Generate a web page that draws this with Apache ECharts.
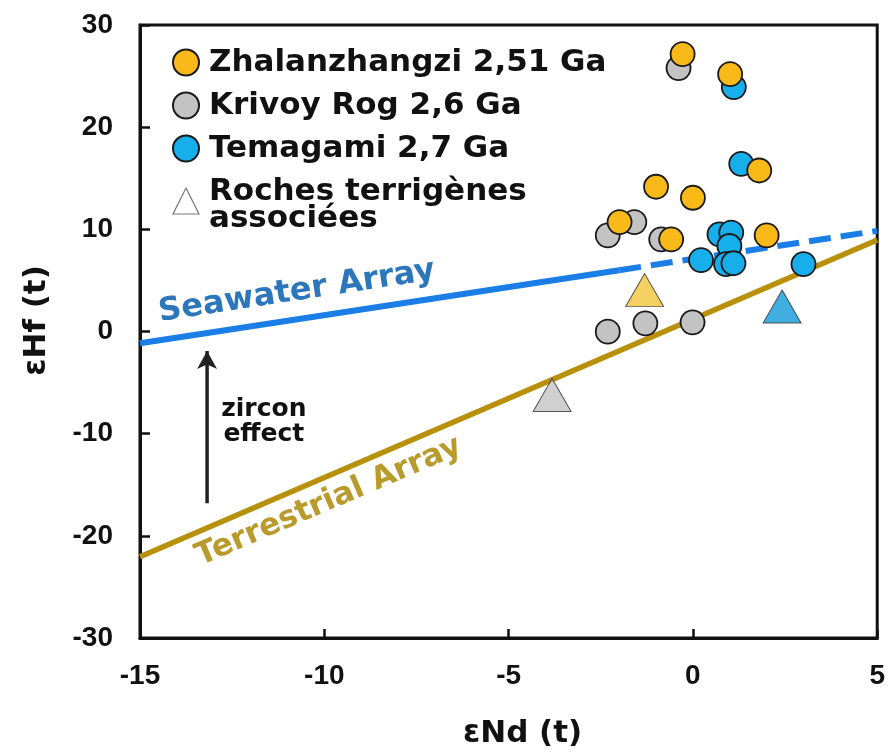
<!DOCTYPE html>
<html><head><meta charset="utf-8">
<script src="https://cdn.jsdelivr.net/npm/echarts@6/dist/echarts.min.js"></script>
<style>html,body{margin:0;padding:0;background:#fff}#c{width:888px;height:754px}</style>
</head><body><div id="c"></div>
<script>
// ---- data ----
const xTicks = [-15, -10, -5, 0, 5];
const yTicks = [-30, -20, -10, 0, 10, 20, 30];
const zhalanzhangzi = [[-0.28,27.14],[1.01,25.19],[-1.0,14.17],[0.0,13.09],[1.80,15.76],[-1.99,10.71],[-0.59,9.02],[2.0,9.41]];
const krivoyRog = [[-0.39,25.78],[-2.31,9.41],[-1.59,10.71],[-0.86,9.02],[-2.31,-0.02],[-1.29,0.80],[-0.01,0.90]];
const temagami = [[1.11,23.92],[1.31,16.41],[0.72,9.51],[1.04,9.68],[0.99,8.37],[0.22,6.98],[0.90,6.59],[1.10,6.68],[3.0,6.59]];
const terrigenous = [[-1.31,4.05],[-3.82,-6.22],[2.42,2.44]];
const terrigenousGroup = ['Zhalanzhangzi 2,51 Ga','Krivoy Rog 2,6 Ga','Temagami 2,7 Ga'];
const seawaterSolid = [[-15,-1.15],[-2,6.0]];
const seawaterDashed = [[-2,6.0],[5,9.85]];
const terrestrial = [[-15,-22.04],[5,8.96]];
const zirconArrow = [[-13.18,-16.8],[-13.18,-1.9]];
const names = ['Zhalanzhangzi 2,51 Ga','Krivoy Rog 2,6 Ga','Temagami 2,7 Ga','Roches terrigènes associées'];
const annotations = [
  {text:'Seawater Array', at:[-10.745,3.89], along:seawaterSolid, color:'#2C76BC', size:32},
  {text:'Terrestrial Array', at:[-9.88,-16.65], along:terrestrial, color:'#B99B2D', size:31},
  {text:'zircon\neffect', at:[-11.64,-8.82], along:null, color:'#111', size:25}
];

// ---- styles ----
const circleColor = {'Zhalanzhangzi 2,51 Ga':'#F9B918','Krivoy Rog 2,6 Ga':'#C3C3C3','Temagami 2,7 Ga':'#17AEEC'};
const triColor = {'Zhalanzhangzi 2,51 Ga':'#F0C43A','Krivoy Rog 2,6 Ga':'#C4C4C4','Temagami 2,7 Ga':'#129AD9'};
const FONT = 'DejaVu Sans';
const TICKFONT = 'Liberation Sans';

function circles(name, data) {
  return {
    type:'scatter', name:name, data:data, symbol:'circle', symbolSize:24, z:5,
    itemStyle:{color:circleColor[name], borderColor:'#1a1a1a', borderWidth:1.8, opacity:1},
    emphasis:{disabled:true}
  };
}

const option = {
  animation:false,
  backgroundColor:'#fff',
  grid:{left:140, right:10, top:25, bottom:114, show:true, borderColor:'#111', borderWidth:3, backgroundColor:'transparent'},
  xAxis:{
    type:'value', min:xTicks[0], max:xTicks[xTicks.length-1], interval:5,
    name:'εNd (t)', nameLocation:'middle', nameGap:80,
    nameTextStyle:{fontFamily:FONT, fontWeight:'bold', fontSize:31, color:'#111', padding:[0,0,0,28]},
    axisLine:{show:true, onZero:false, lineStyle:{color:'#111', width:3}},
    axisTick:{show:true, inside:true, length:9, lineStyle:{color:'#111', width:2.5}},
    splitLine:{show:false},
    axisLabel:{fontFamily:TICKFONT, fontWeight:'bold', fontSize:28, color:'#111', margin:24, showMinLabel:true, showMaxLabel:true}
  },
  yAxis:{
    type:'value', min:yTicks[0], max:yTicks[yTicks.length-1], interval:10,
    name:'εHf (t)', nameLocation:'middle', nameGap:88,
    nameTextStyle:{fontFamily:FONT, fontWeight:'bold', fontSize:31, color:'#111', padding:[0,0,0,22]},
    axisLine:{show:true, onZero:false, lineStyle:{color:'#111', width:3}},
    axisTick:{show:true, inside:true, length:10, lineStyle:{color:'#111', width:2.5}},
    splitLine:{show:false},
    axisLabel:{fontFamily:TICKFONT, fontWeight:'bold', fontSize:28, color:'#111', margin:27, showMinLabel:true, showMaxLabel:true}
  },
  legend:{
    orient:'vertical', left:172, top:41, padding:0, itemGap:0, itemWidth:26, itemHeight:26,
    selectedMode:false,
    data:[
      {name:names[0], icon:'circle'},
      {name:names[1], icon:'circle'},
      {name:names[2], icon:'circle'},
      {name:names[3], icon:'triangle', itemStyle:{color:'#fff', borderColor:'#555', borderWidth:1.2},
       textStyle:{padding:[8,0,0,5]}}
    ],
    formatter:function(n){ return n === names[3] ? '{r|Roches terrigènes}\n{r|associées}' : n; },
    textStyle:{fontFamily:FONT, fontWeight:'bold', fontSize:31, color:'#111', lineHeight:43, padding:[0,0,0,5],
      rich:{
        r:{fontFamily:FONT, fontWeight:'bold', fontSize:31, color:'#111', lineHeight:27}
      }}
  },
  series:[
    {type:'line', name:'Terrestrial Array', data:terrestrial, showSymbol:false, z:2, silent:true,
     lineStyle:{color:'#B8900A', width:5.5}},
    {type:'line', name:'Seawater Array', data:seawaterSolid, showSymbol:false, z:2, silent:true,
     lineStyle:{color:'#1A7EE6', width:6}},
    {type:'line', name:'Seawater Array (dashed)', data:seawaterDashed, showSymbol:false, z:2, silent:true,
     lineStyle:{color:'#1A7EE6', width:6, type:[22,10], cap:'butt'}},
    {type:'line', name:'zircon effect', z:3, silent:true, showSymbol:true,
     data:[{value:zirconArrow[0], symbol:'none'}, {value:zirconArrow[1], symbol:'arrow', symbolSize:[15,18]}],
     itemStyle:{color:'#222'}, lineStyle:{color:'#222', width:3.5}},
    {type:'scatter', name:names[3], z:4,
     data:terrigenous.map(function(p,i){ return {value:p, itemStyle:{color:triColor[terrigenousGroup[i]]}}; }),
     symbol:'triangle', symbolSize:[38,33],
     itemStyle:{borderColor:'#333', borderWidth:1}, emphasis:{disabled:true}},
    circles(names[1], krivoyRog),
    circles(names[2], temagami),
    circles(names[0], zhalanzhangzi)
  ]
};

const chart = echarts.init(document.getElementById('c'), null, {renderer:'canvas'});
chart.setOption(option);

function px(p){ return chart.convertToPixel({gridIndex:0}, p); }
const graphics = annotations.map(function(a){
  const c = px(a.at);
  let rot = 0;
  if (a.along) {
    const p0 = px(a.along[0]), p1 = px(a.along[a.along.length-1]);
    rot = Math.atan2(p0[1]-p1[1], p1[0]-p0[0]);
  }
  return {type:'text', x:c[0], y:c[1], rotation:rot, z:10, silent:true,
    style:{text:a.text, fill:a.color, fontFamily:FONT, fontWeight:'bold', fontSize:a.size,
      lineHeight:a.size, align:'center', verticalAlign:'middle', textAlign:'center', textVerticalAlign:'middle'}};
});
chart.setOption({graphic:graphics});
</script>
</body></html>
